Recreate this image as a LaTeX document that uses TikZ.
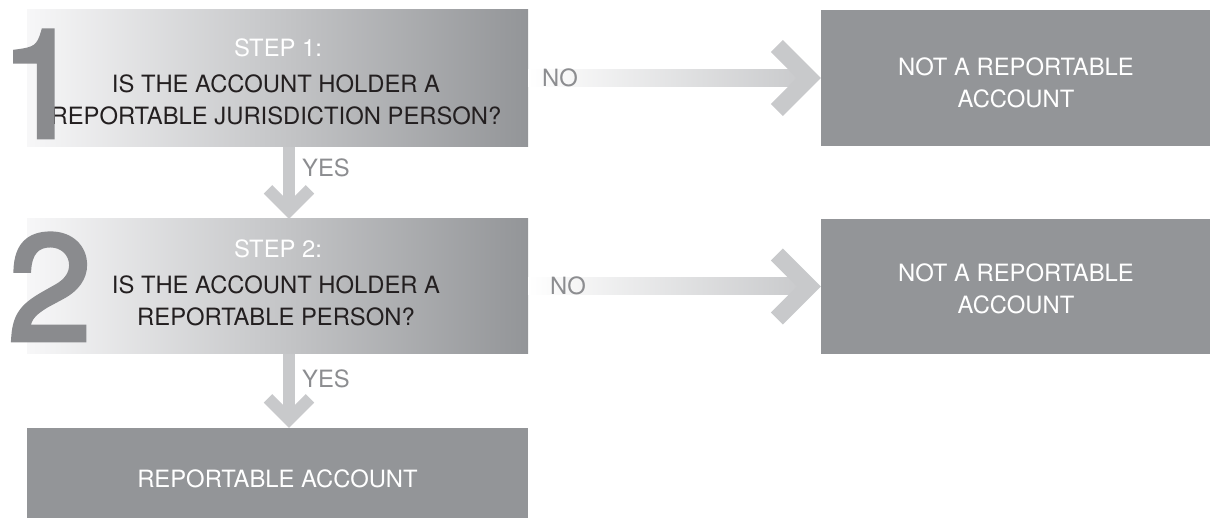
\documentclass[tikz,border=0pt]{standalone}
\usepackage{fontspec}
\setmainfont{TeX Gyre Heros}
\newfontfamily\numeralfont[FakeBold=3]{TeX Gyre Heros}
\usetikzlibrary{calc}

\definecolor{boxgray}{HTML}{939598}
\definecolor{lightend}{HTML}{F7F7F8}
\definecolor{arrowgray}{HTML}{C8C9CB}
\definecolor{labelgray}{HTML}{8C8D90}
\definecolor{digitgray}{HTML}{8A8B8E}
\definecolor{ink}{HTML}{231F20}

\begin{document}
\begin{tikzpicture}[x=1pt,y=-1pt,
  stepbox/.style={rectangle, inner sep=0pt, minimum width=501pt,
    left color=lightend, right color=boxgray},
  outbox/.style={rectangle, inner sep=0pt, fill=boxgray},
  txt/.style={inner sep=0pt, anchor=base, font=\fontsize{23.8}{28}\selectfont},
  steptitle/.style={txt, text=white},
  question/.style={txt, text=ink},
  result/.style={txt, text=white},
  answer/.style={txt, anchor=base west, text=labelgray},
  digit/.style={inner sep=0pt, anchor=base west, text=digitgray,
    font=\numeralfont\fontsize{150}{150}\selectfont},
  hbar/.style={left color=white, right color=arrowgray},
  vbar/.style={draw=arrowgray, line width=12pt, line cap=butt},
  hchev/.style={draw=arrowgray, line width=17pt, line join=miter, line cap=butt},
  vchev/.style={draw=arrowgray, line width=12pt, line join=miter, line cap=butt}
]
\useasboundingbox (0,0) rectangle (1210,518);

% question boxes and outcome boxes
\node[stepbox, minimum height=137pt] (s1) at (277.5,78.5) {};
\node[stepbox, minimum height=135pt] (s2) at (277.5,286.5) {};
\node[outbox, minimum width=501pt, minimum height=90pt] (s3) at (277.5,473) {};
\node[outbox, minimum width=389pt, minimum height=136pt] (n1) at (1015.5,78) {};
\node[outbox, minimum width=389pt, minimum height=135pt] (n2) at (1015.5,286.5) {};

% texts of step 1
\node[steptitle] (s1t) at (278,57) {STEP 1:};
\node[question] (s1q) at (276,93) {IS THE ACCOUNT HOLDER A};
\node[question] (s1r) at (276,125) {REPORTABLE JURISDICTION PERSON?};

% texts of step 2
\node[steptitle] (s2t) at (278,258) {STEP 2:};
\node[question] (s2q) at (276,294) {IS THE ACCOUNT HOLDER A};
\node[question] (s2r) at (276,326) {REPORTABLE PERSON?};

% outcome texts
\node[result] (s3t) at (277.5,487) {REPORTABLE ACCOUNT};
\node[result] (n1a) at (1016,75.5) {NOT A REPORTABLE};
\node[result] (n1b) at (1016,107.5) {ACCOUNT};
\node[result] (n2a) at (1016,281.5) {NOT A REPORTABLE};
\node[result] (n2b) at (1016,313.5) {ACCOUNT};

% "no" arrows
\shade[hbar] ($(s1.east)+(0,-8.5)$) rectangle ($(n1.west)+(-14,8.5)$);
\draw[hchev] ($(n1.west)+(-44,-32)$) -- ($(n1.west)+(-12,0)$) -- ($(n1.west)+(-44,32)$);
\node[answer] (no1) at (542,87) {NO};

\shade[hbar] ($(s2.east)+(0,-8.5)$) rectangle ($(n2.west)+(-14,8.5)$);
\draw[hchev] ($(n2.west)+(-44,-32)$) -- ($(n2.west)+(-12,0)$) -- ($(n2.west)+(-44,32)$);
\node[answer] (no2) at (550,295) {NO};

% "yes" arrows
\draw[vbar] ($(s1.south)+(11.5,0)$) -- ($(s2.north)+(11.5,-12)$);
\draw[vchev] ($(s2.north)+(-9.5,-29.5)$) -- ($(s2.north)+(11.5,-8.5)$) -- ($(s2.north)+(32.5,-29.5)$);
\node[answer] (yes1) at (302,177) {YES};

\draw[vbar] ($(s2.south)+(11.5,0)$) -- ($(s3.north)+(11.5,-12)$);
\draw[vchev] ($(s3.north)+(-9.5,-29.5)$) -- ($(s3.north)+(11.5,-8.5)$) -- ($(s3.north)+(32.5,-29.5)$);
\node[answer] (yes2) at (302,388) {YES};

% large step numbers
\node[digit] (d1) at (0,137) {1};
\node[digit] (d2) at (8,340) {2};
\end{tikzpicture}
\end{document}
